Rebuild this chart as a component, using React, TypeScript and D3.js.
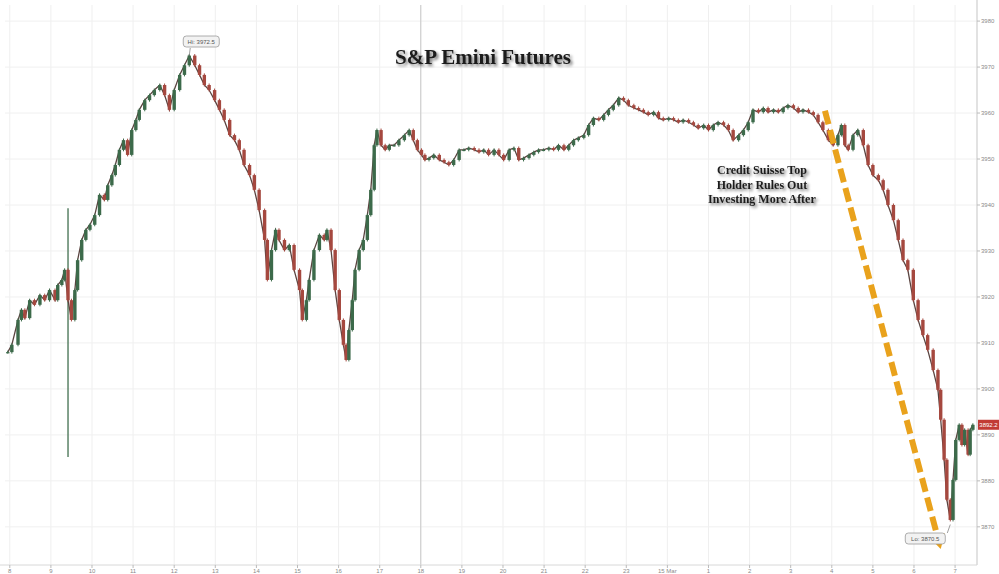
import React, { useEffect } from "react";
import * as d3 from "d3";

// minutes since 08:00 (Mar 14)
const minutes = [-3,3,12,17,22,29,36,44,51,58,66,70,76,80,85,90,95,99,105,111,117,124,131,138,143,149,154,160,166,172,178,184,189,197,204,211,219,226,233,240,248,255,262,270,277,284,291,299,306,313,321,328,335,342,350,357,364,372,376,382,388,393,401,408,415,423,427,433,437,444,452,459,463,469,475,481,487,491,495,500,504,510,516,522,527,532,536,542,548,554,561,568,576,583,589,595,601,606,612,619,627,634,641,648,656,663,670,678,685,692,699,707,714,721,729,736,743,750,758,765,772,779,787,794,801,809,816,823,830,838,845,852,860,867,874,881,889,896,903,911,918,925,932,940,947,954,962,969,976,983,991,998,1005,1013,1020,1027,1034,1042,1049,1056,1064,1071,1078,1085,1093,1100,1107,1115,1122,1129,1136,1144,1151,1158,1166,1173,1180,1187,1195,1202,1209,1214,1219,1224,1231,1238,1246,1253,1260,1268,1275,1282,1290,1297,1304,1311,1319,1326,1333,1340,1348,1355,1359,1364,1368,1373,1377,1381,1386,1390,1394,1399,1402,1406];

const closes = [3908.0,3909.6,3915.0,3917.2,3915.4,3919.3,3918.3,3920.4,3919.3,3921.5,3919.3,3922.6,3923.7,3925.9,3919.3,3915.0,3921.5,3928.0,3932.4,3934.6,3935.7,3937.8,3942.2,3941.1,3944.3,3946.5,3948.7,3952.0,3954.1,3950.9,3956.3,3958.5,3960.7,3962.8,3963.9,3965.0,3966.1,3963.9,3960.7,3965.0,3968.3,3970.4,3972.5,3970.4,3968.3,3966.1,3965.0,3962.8,3960.7,3958.5,3955.2,3954.1,3952.0,3948.7,3946.5,3943.3,3938.9,3932.4,3923.7,3930.2,3934.6,3932.4,3930.2,3931.3,3925.9,3921.5,3915.0,3919.3,3923.7,3930.2,3933.5,3932.4,3934.6,3930.2,3921.5,3915.0,3909.6,3906.3,3912.8,3919.3,3925.9,3930.2,3932.4,3937.8,3943.3,3953.0,3956.3,3953.0,3952.0,3953.0,3953.0,3954.1,3955.2,3956.3,3954.1,3952.0,3950.9,3949.8,3950.2,3950.9,3949.8,3949.3,3948.7,3949.8,3952.0,3952.0,3952.4,3952.0,3951.5,3952.0,3950.9,3952.0,3950.9,3949.8,3952.0,3952.4,3949.8,3950.2,3950.9,3951.5,3952.0,3952.0,3952.4,3952.0,3953.0,3952.0,3953.0,3954.1,3954.6,3955.2,3957.4,3958.9,3958.5,3959.6,3960.7,3961.7,3963.3,3962.8,3961.7,3961.1,3960.7,3960.2,3959.6,3960.2,3958.9,3958.5,3958.9,3958.5,3958.0,3958.5,3958.0,3957.4,3956.7,3957.4,3956.3,3957.4,3958.0,3957.4,3956.3,3954.1,3955.2,3956.3,3958.0,3960.7,3960.2,3961.1,3960.2,3960.7,3960.2,3961.1,3961.7,3961.1,3960.2,3960.7,3960.2,3959.6,3958.0,3956.3,3954.1,3953.0,3955.2,3957.4,3953.0,3952.0,3955.2,3956.3,3953.0,3948.7,3946.5,3945.4,3943.3,3940.0,3936.7,3932.4,3928.0,3925.9,3919.3,3915.0,3911.7,3908.5,3904.1,3899.8,3893.3,3884.6,3875.9,3871.5,3880.2,3888.9,3892.2,3887.8,3891.1,3885.7,3891.1,3892.2];

// extreme wick at the cash open
const spikeMinute = 85;
const spikeHigh = 3939.3;
const spikeLow = 3885.2;

const yTicks = [3980,3970,3960,3950,3940,3930,3920,3910,3900,3890,3880,3870];
const xTickMinutes = [0,60,120,180,240,300,360,420,480,540,600,660,720,780,840,900,960,1020,1080,1140,1200,1260,1320,1380];
const xTickLabels = ["8","9","10","11","12","13","14","15","16","17","18","19","20","21","22","23","15 Mar","1","2","3","4","5","6","7"];
const sessionLineMinute = 600;

const title = "S&P Emini Futures";
const annotationLines = ["Credit Suisse Top","Holder Rules Out","Investing More After"];
const annoMinute = 1098;
const annoPrice = 3946.7;
const arrowStart = [1190, 3960.5];
const arrowEnd = [1359, 3865.2];
const hiValue = 3972.5;
const hiMinute = 262;
const loValue = 3870.5;
const loMinute = 1373;
const lastValue = "3892.2";

const W = 999, H = 574;
const plot = { left: 5, right: 977, top: 5, bottom: 565 };

export default function App() {
  useEffect(() => { document.body.style.margin = "0"; }, []);
  const x = d3.scaleLinear().domain([-7, 1412]).range([plot.left, plot.right]);
  const y = d3.scaleLinear().domain([3861.7, 3983.5]).range([plot.bottom, plot.top]);
  const up = "#3c6a4a", down = "#a5483f";
  const n = Math.min(minutes.length, closes.length);
  const pts: [number, number][] = closes.slice(0, n).map((c, i) => [x(minutes[i]), y(c)]);
  const pathD = d3.line()(pts) || "";
  const candles = closes.slice(0, n).map((c, i) => {
    const o = i === 0 ? c : closes[i - 1];
    const cx = x(minutes[i]);
    const top = y(Math.max(o, c)), bot = y(Math.min(o, c));
    const col = c >= o ? up : down;
    return (
      <g key={i}>
        <line x1={cx} x2={cx} y1={top - 1.5} y2={bot + 1.5} stroke={col} strokeWidth={1} />
        <rect x={cx - 1.7} y={top} width={3.4} height={Math.max(1.2, bot - top)} fill={col} />
      </g>
    );
  });
  const ax = x(arrowStart[0]), ay = y(arrowStart[1]);
  const bx = x(arrowEnd[0]), by = y(arrowEnd[1]);
  const ang = Math.atan2(by - ay, bx - ax);
  const headLen = 14, headW = 8;
  const hx = bx - Math.cos(ang) * headLen, hy = by - Math.sin(ang) * headLen;
  const px = -Math.sin(ang) * headW, py = Math.cos(ang) * headW;
  const hiX = x(hiMinute), hiY = y(hiValue);
  const loX = x(loMinute), loY = y(loValue);
  const gold = "#e9a21c";
  return (
    <svg width={W} height={H} style={{ display: "block", background: "#fff" }} fontFamily="Liberation Sans, Arial, sans-serif">
      <defs>
        <filter id="sh" x="-10%" y="-30%" width="120%" height="160%">
          <feGaussianBlur in="SourceAlpha" stdDeviation="1.6" />
          <feOffset dx="1.5" dy="1.5" result="b" />
          <feComponentTransfer><feFuncA type="linear" slope="0.55" /></feComponentTransfer>
          <feMerge><feMergeNode /><feMergeNode in="SourceGraphic" /></feMerge>
        </filter>
      </defs>
      {xTickMinutes.map((m, i) => (
        <line key={"vx" + i} x1={x(m)} x2={x(m)} y1={plot.top} y2={plot.bottom} stroke="#efefef" strokeWidth={1} />
      ))}
      {yTicks.map((v, i) => (
        <line key={"hy" + i} x1={plot.left} x2={plot.right} y1={y(v)} y2={y(v)} stroke="#f0f0f0" strokeWidth={1} />
      ))}
      <line x1={x(sessionLineMinute)} x2={x(sessionLineMinute)} y1={plot.top} y2={plot.bottom} stroke="#c8c8c8" strokeWidth={1} />
      <line x1={plot.right} x2={plot.right} y1={0} y2={plot.bottom} stroke="#cfcfcf" strokeWidth={1.2} />
      <line x1={0} x2={plot.right} y1={plot.bottom} y2={plot.bottom} stroke="#d8d8d8" strokeWidth={1} />
      {yTicks.map((v, i) => (
        <g key={"yt" + i}>
          <line x1={plot.right} x2={plot.right + 3} y1={y(v)} y2={y(v)} stroke="#bbb" />
          <text x={plot.right + 4} y={y(v) + 2} fontSize={6} fill="#8a8a8a">{v}</text>
        </g>
      ))}
      {xTickMinutes.map((m, i) => (
        <g key={"xt" + i}>
          <line x1={x(m)} x2={x(m)} y1={plot.bottom} y2={plot.bottom + 3} stroke="#bbb" />
          <text x={x(m)} y={plot.bottom + 8} fontSize={6} fill="#8a8a8a" textAnchor="middle">{xTickLabels[i]}</text>
        </g>
      ))}
      <line x1={x(spikeMinute)} x2={x(spikeMinute)} y1={y(spikeHigh)} y2={y(spikeLow)} stroke="#4f7a5c" strokeWidth={1.4} />
      <path d={pathD} fill="none" stroke="#5a4440" strokeWidth={1.3} />
      {candles}
      <text x={483} y={64} textAnchor="middle" fontFamily="Liberation Serif, Times New Roman, serif" fontWeight="bold" fontSize={21} fill="#1a1a1a" filter="url(#sh)">{title}</text>
      <g fontFamily="Liberation Serif, Times New Roman, serif" fontWeight="bold" fontSize={12} fill="#1e1e1e" textAnchor="middle" filter="url(#sh)">
        {annotationLines.map((t, i) => (
          <text key={i} x={x(annoMinute)} y={y(annoPrice) + i * 14.5}>{t}</text>
        ))}
      </g>
      <line x1={ax} y1={ay} x2={hx} y2={hy} stroke={gold} strokeWidth={6} strokeDasharray="14 6" />
      <polygon points={`${bx},${by} ${hx + px},${hy + py} ${hx - px},${hy - py}`} fill={gold} />
      <line x1={hiX} x2={hiX + 1} y1={hiY} y2={48} stroke="#888" strokeWidth={0.8} />
      <rect x={hiX - 6} y={36} width={36} height={11} rx={3} fill="#f2f2f2" stroke="#9a9a9a" strokeWidth={0.8} />
      <text x={hiX + 12} y={44} fontSize={6} fill="#555" textAnchor="middle">Hi: {hiValue}</text>
      <line x1={loX} x2={loX - 3} y1={loY} y2={533} stroke="#888" strokeWidth={0.8} />
      <rect x={loX - 45} y={533} width={40} height={11} rx={3} fill="#f2f2f2" stroke="#9a9a9a" strokeWidth={0.8} />
      <text x={loX - 25} y={541} fontSize={6} fill="#555" textAnchor="middle">Lo: {loValue}</text>
      <rect x={plot.right + 1} y={y(+lastValue) - 5} width={21} height={10} fill="#c23b35" />
      <text x={plot.right + 11.5} y={y(+lastValue) + 2} fontSize={6} fill="#fff" textAnchor="middle">{lastValue}</text>
    </svg>
  );
}
